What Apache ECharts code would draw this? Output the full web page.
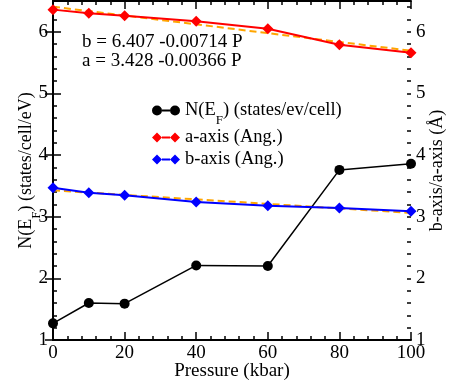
<!DOCTYPE html>
<html>
<head>
<meta charset="utf-8">
<script src="https://cdn.jsdelivr.net/npm/echarts@6/dist/echarts.min.js"></script>
<style>html,body{margin:0;padding:0;background:#fff}#c{width:451px;height:389px}</style>
</head>
<body>
<div id="c"></div>
<script>
var pressure = [0, 10, 20, 40, 60, 80, 100];
var nEf = [1.27, 1.60, 1.59, 2.21, 2.20, 3.76, 3.86];
var aAxis = [6.36, 6.30, 6.26, 6.17, 6.05, 5.79, 5.66];
var bAxis = [3.47, 3.39, 3.35, 3.24, 3.18, 3.14, 3.09];
var fitP = [0, 100];
var fitUpper = [6.407, 5.693];
var fitLower = [3.428, 3.062];
var fitTexts = ['b = 6.407 -0.00714 P', 'a = 3.428 -0.00366 P'];
var legendNames = ['N(E{sub|F}) (states/ev/cell)', 'a-axis (Ang.)', 'b-axis (Ang.)'];
var xTicks = {min: 0, max: 100, interval: 20};
var yTicks = {min: 1, max: 6.5, interval: 1};

function pairs(xs, ys) { return xs.map(function (x, i) { return [x, ys[i]]; }); }

var FONT = 'Liberation Serif';
var chart = echarts.init(document.getElementById('c'), null, {renderer: 'canvas'});
var lineStyleAxis = {color: '#000', width: 2};

var iconCircle = 'path://M0,5 A5,5 0 1,1 10,5 A5,5 0 1,1 0,5 Z M10,4.1 L18,4.1 L18,5.9 L10,5.9 Z M18,5 A5,5 0 1,1 28,5 A5,5 0 1,1 18,5 Z';
var iconDiamond = 'path://M0,5 L5,0 L10,5 L5,10 Z M10,4.1 L18,4.1 L18,5.9 L10,5.9 Z M18,5 L23,0 L28,5 L23,10 Z';

function yAx(pos, showLabel, minor) {
  return {
    type: 'value', position: pos, min: yTicks.min, max: yTicks.max,
    interval: minor ? 0.2 : yTicks.interval,
    axisLine: {show: !minor, lineStyle: lineStyleAxis},
    axisTick: {show: true, inside: true, length: minor ? 4 : 8, lineStyle: {color: '#000', width: 1.5}},
    axisLabel: {show: showLabel, showMaxLabel: false, color: '#000', fontFamily: FONT, fontSize: 19, margin: 5},
    splitLine: {show: false}
  };
}

var right = yAx('right', true, false);
right.name = 'b-axis/a-axis (Å)';
right.nameLocation = 'middle';
right.nameRotate = 90;
right.nameGap = 17;
right.nameMoveOverlap = false;
right.nameTextStyle = {color: '#000', fontFamily: FONT, fontSize: 18};
var left = yAx('left', true, false);
left.name = 'N(E{sub|F}) (states/cell/eV)';
left.nameLocation = 'middle';
left.nameGap = 18;
left.nameMoveOverlap = false;
left.nameTextStyle = {color: '#000', fontFamily: FONT, fontSize: 18,
  rich: {sub: {fontFamily: FONT, fontSize: 13, verticalAlign: 'bottom', padding: [0, 0, -8, 0]}}};

function xAx(pos, showLabel) {
  return {
    type: 'value', position: pos, min: xTicks.min, max: xTicks.max, interval: xTicks.interval,
    axisLine: {show: true, onZero: false, lineStyle: lineStyleAxis},
    axisTick: {show: true, inside: true, length: 8, lineStyle: {color: '#000', width: 1.5}},
    minorTick: {show: true, splitNumber: 5, length: 4, lineStyle: {color: '#000', width: 1.5}},
    axisLabel: {show: showLabel, color: '#000', fontFamily: FONT, fontSize: 19, margin: 4},
    splitLine: {show: false}
  };
}
var bottom = xAx('bottom', true);
bottom.name = 'Pressure (kbar)';
bottom.nameLocation = 'middle';
bottom.nameGap = 22;
bottom.nameMoveOverlap = false;
bottom.nameTextStyle = {color: '#000', fontFamily: FONT, fontSize: 19};

var seriesIds = ['nef', 'a-axis (Ang.)', 'b-axis (Ang.)'];
var legendColors = ['#000', '#f00', '#00f'];
var legendIcons = [iconCircle, iconDiamond, iconDiamond];
var legendTops = [95, 122, 144];
var legends = seriesIds.map(function (id, i) {
  return {
    orient: 'vertical', left: 147, top: legendTops[i], itemWidth: 28, itemHeight: 10,
    textStyle: {color: '#000', fontFamily: FONT, fontSize: 18.5, lineHeight: 21,
      rich: {sub: {fontFamily: FONT, fontSize: 13, lineHeight: 21, verticalAlign: 'bottom', padding: [0, 0, -6, 0]}}},
    formatter: function () { return legendNames[i]; },
    data: [{name: id, icon: legendIcons[i], itemStyle: {color: legendColors[i]}}]
  };
});

var option = {
  animation: false,
  backgroundColor: '#fff',
  grid: {left: 53, right: 40, top: 1, bottom: 49, containLabel: false, outerBoundsMode: 'none'},
  xAxis: [bottom, xAx('top', false)],
  yAxis: [left, right, yAx('left', false, true), yAx('right', false, true)],
  legend: legends,
  graphic: [
    {type: 'text', left: 82, top: 33, style: {text: fitTexts[0], fill: '#000', font: '19px "Liberation Serif"'}},
    {type: 'text', left: 82, top: 52, style: {text: fitTexts[1], fill: '#000', font: '19px "Liberation Serif"'}}
  ],
  series: [
    {type: 'line', name: 'fitU', data: pairs(fitP, fitUpper), symbol: 'none', lineStyle: {color: '#FFA500', width: 2, type: [7, 4]}, z: 2},
    {type: 'line', name: 'fitL', data: pairs(fitP, fitLower), symbol: 'none', lineStyle: {color: '#FFA500', width: 2, type: [7, 4]}, z: 2},
    {type: 'line', name: 'nef', data: pairs(pressure, nEf), symbol: 'circle', symbolSize: 10, clip: false,
      itemStyle: {color: '#000'}, lineStyle: {color: '#000', width: 1.5}, z: 3},
    {type: 'line', name: 'a-axis (Ang.)', data: pairs(pressure, aAxis), symbol: 'diamond', symbolSize: 11, clip: false,
      itemStyle: {color: '#f00'}, lineStyle: {color: '#f00', width: 2}, z: 3},
    {type: 'line', name: 'b-axis (Ang.)', data: pairs(pressure, bAxis), symbol: 'diamond', symbolSize: 11, clip: false,
      itemStyle: {color: '#00f'}, lineStyle: {color: '#00f', width: 2}, z: 3}
  ]
};
chart.setOption(option);
</script>
</body>
</html>
